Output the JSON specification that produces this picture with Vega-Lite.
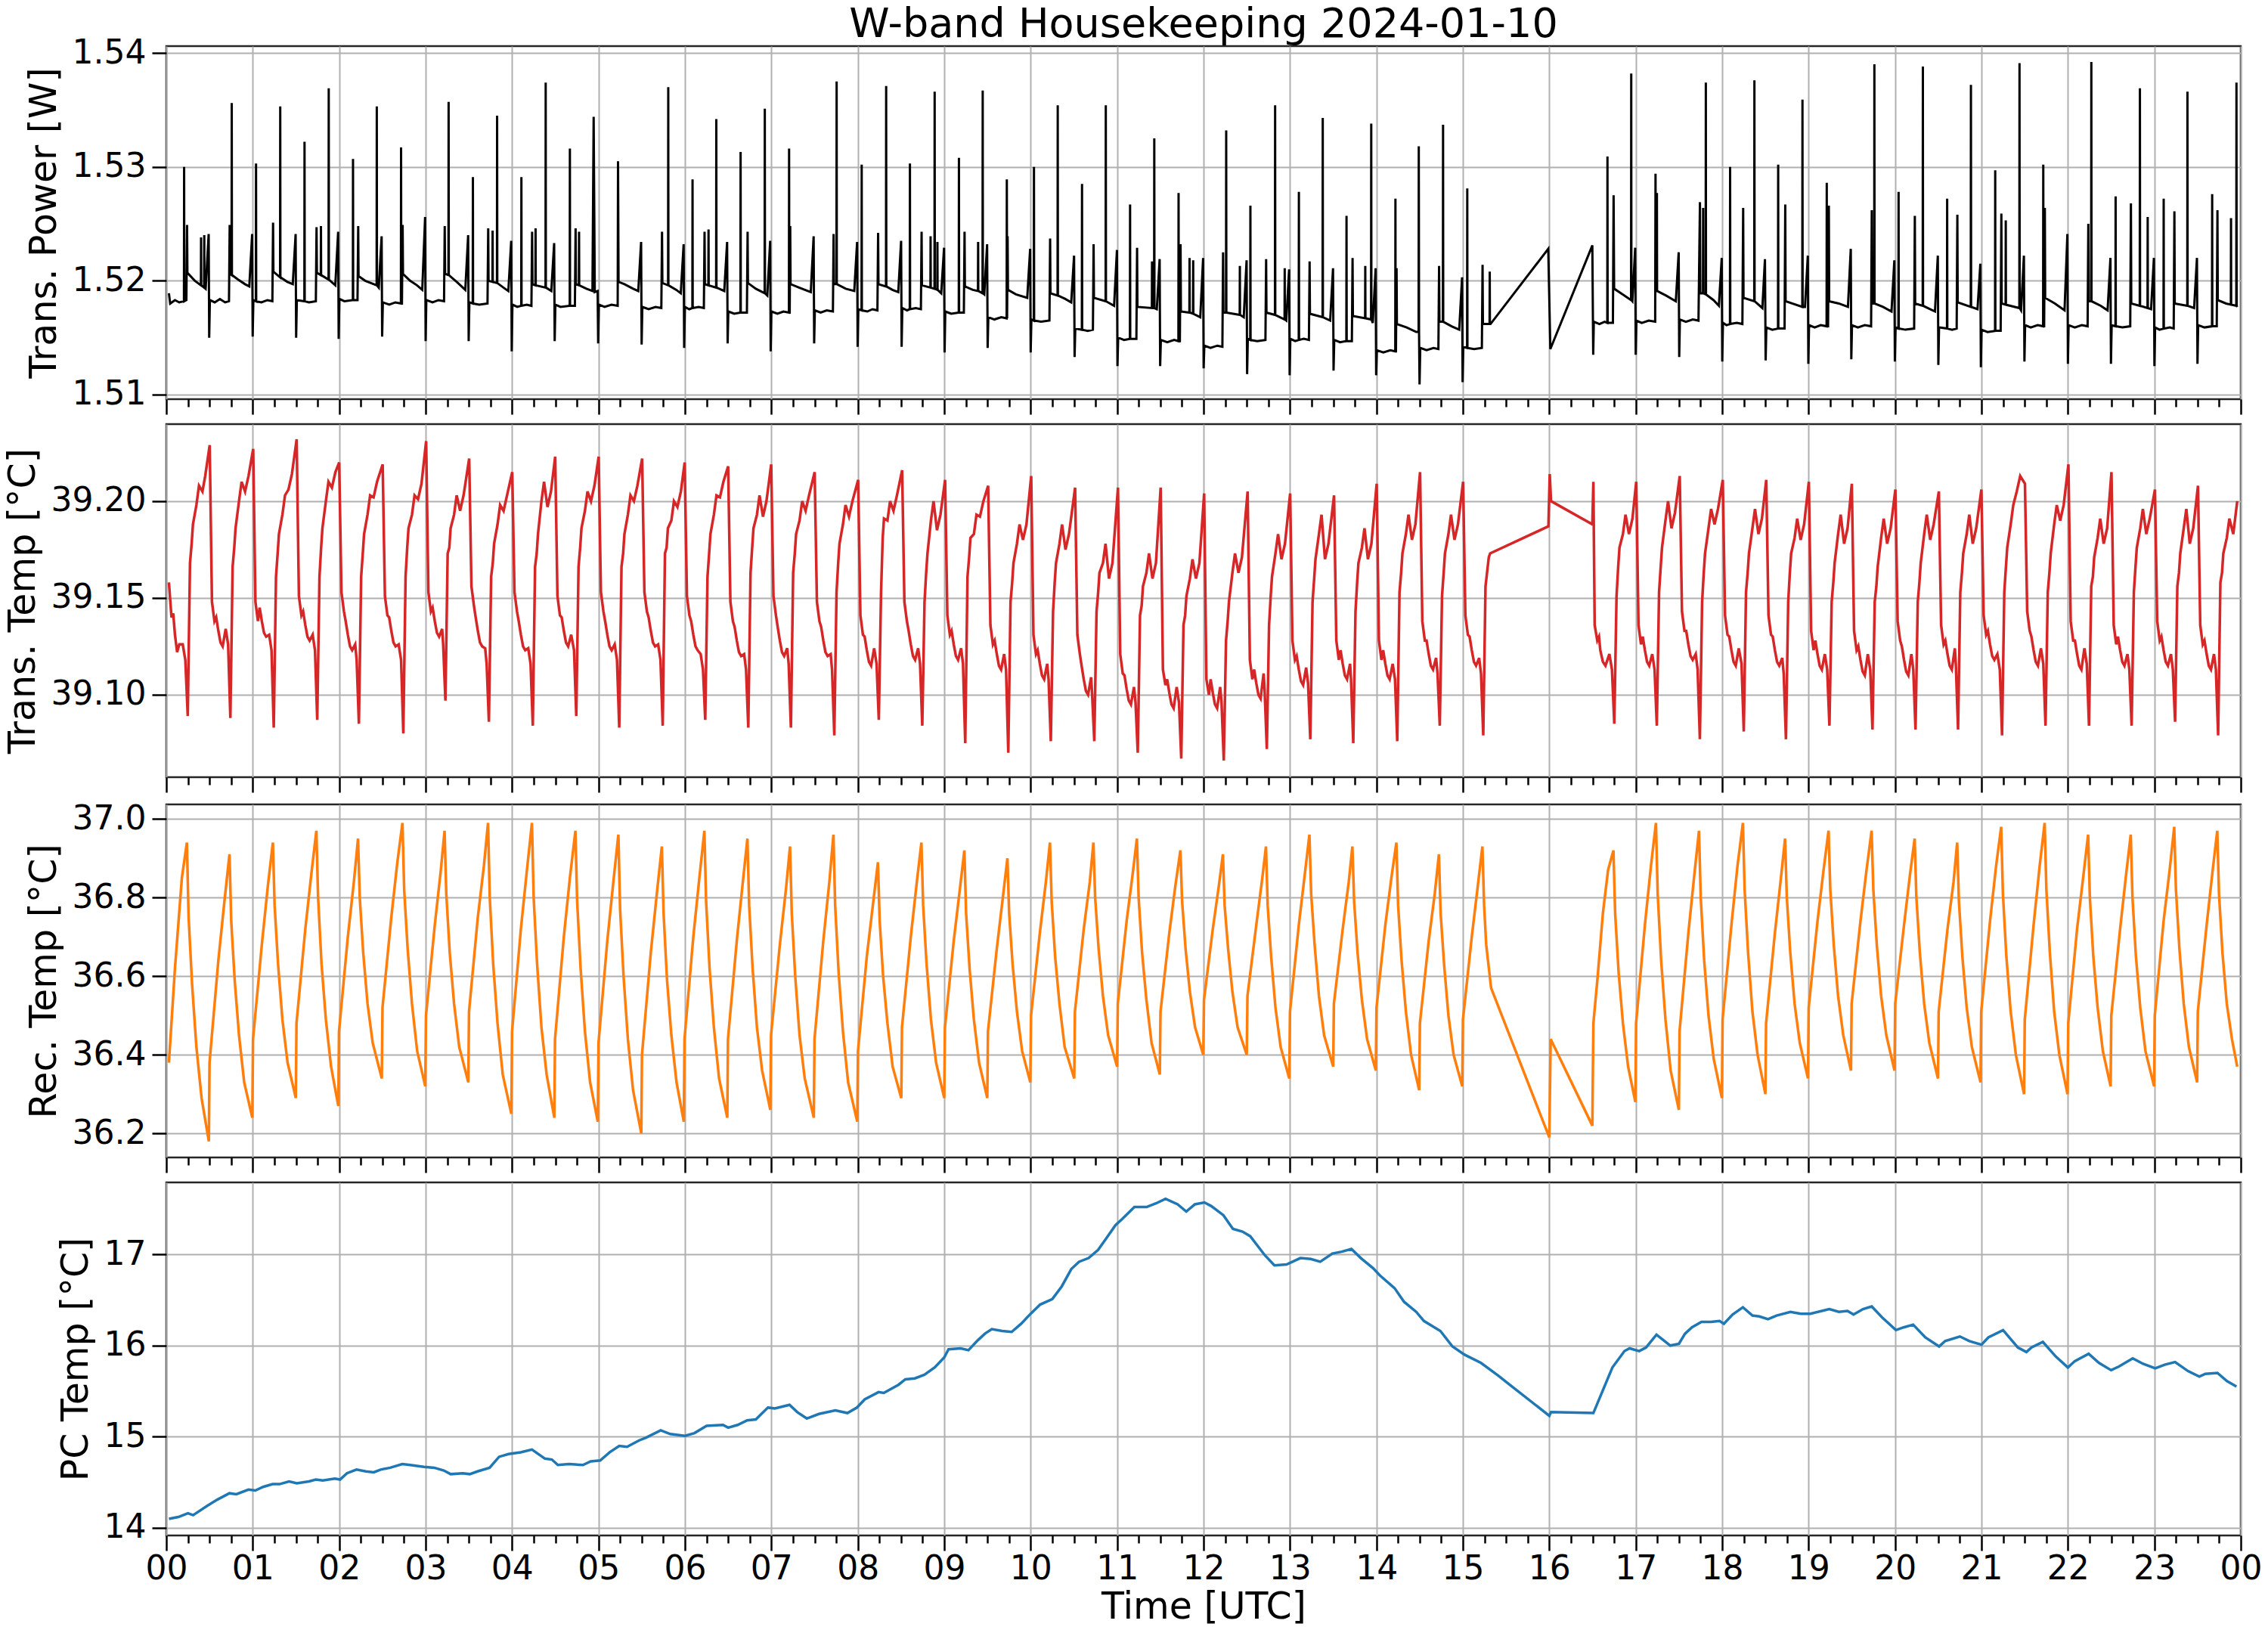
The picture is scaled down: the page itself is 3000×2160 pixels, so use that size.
{
  "$schema": "https://vega.github.io/schema/vega-lite/v6.json",
  "padding": {"left": 4, "top": 4, "right": 5, "bottom": 0},
  "config": {
    "font": "DejaVu Sans",
    "view": {"stroke": "#262626", "strokeWidth": 2.5},
    "concat": {"spacing": 8},
    "axis": {
      "domain": false,
      "gridColor": "#b0b0b0",
      "gridWidth": 2,
      "tickColor": "#000000",
      "tickWidth": 2.5,
      "labelColor": "#000000",
      "labelFont": "DejaVu Sans",
      "labelFontSize": 44,
      "titleFont": "DejaVu Sans",
      "titleFontSize": 49,
      "titleFontWeight": "normal",
      "titleColor": "#000000",
      "labelOverlap": false,
      "labelFlush": false
    },
    "axisX": {"tickSize": 20},
    "axisY": {"tickSize": 19, "labelPadding": 8, "titlePadding": 12}
  },
  "datasets": {
    "power": [
      {"t":0.03,"v":1.5189},{"t":0.045,"v":1.518},{"t":0.10,"v":1.5183},{"t":0.15,"v":1.5181},{"t":0.204,"v":1.5182},{"t":0.206,"v":1.53},{"t":0.208,"v":1.5182},{"t":0.232,"v":1.5183},
      {"t":0.240,"v":1.5249},{"t":0.244,"v":1.5207},{"t":0.33,"v":1.52},{"t":0.400,"v":1.5196},{"t":0.402,"v":1.5238},{"t":0.404,"v":1.5196},{"t":0.437,"v":1.5194},{"t":0.439,"v":1.524},{"t":0.441,"v":1.5194},{"t":0.455,"v":1.5193},
      {"t":0.490,"v":1.5241},{"t":0.496,"v":1.515},{"t":0.504,"v":1.5183},{"t":0.56,"v":1.5181},{"t":0.62,"v":1.5184},{"t":0.68,"v":1.5181},{"t":0.725,"v":1.5182},
      {"t":0.733,"v":1.5249},{"t":0.737,"v":1.5206},{"t":0.755,"v":1.5205},{"t":0.757,"v":1.5356},{"t":0.759,"v":1.5205},{"t":0.83,"v":1.5201},{"t":0.91,"v":1.5197},{"t":0.96,"v":1.5195},
      {"t":0.993,"v":1.5241},{"t":0.999,"v":1.5151},{"t":1.007,"v":1.5183},{"t":1.036,"v":1.5182},{"t":1.038,"v":1.5303},{"t":1.040,"v":1.5182},{"t":1.10,"v":1.5181},{"t":1.17,"v":1.5183},{"t":1.227,"v":1.5182},
      {"t":1.235,"v":1.5251},{"t":1.239,"v":1.5208},{"t":1.316,"v":1.5203},{"t":1.318,"v":1.5353},{"t":1.320,"v":1.5203},{"t":1.40,"v":1.5199},{"t":1.463,"v":1.5197},
      {"t":1.496,"v":1.5241},{"t":1.502,"v":1.515},{"t":1.510,"v":1.5183},{"t":1.597,"v":1.5182},{"t":1.599,"v":1.5322},{"t":1.601,"v":1.5182},{"t":1.65,"v":1.5181},{"t":1.730,"v":1.5182},
      {"t":1.738,"v":1.5247},{"t":1.742,"v":1.5207},{"t":1.787,"v":1.5205},{"t":1.789,"v":1.5248},{"t":1.791,"v":1.5205},{"t":1.877,"v":1.5201},{"t":1.879,"v":1.5369},{"t":1.881,"v":1.5201},{"t":1.955,"v":1.5196},
      {"t":1.988,"v":1.5243},{"t":1.994,"v":1.5149},{"t":2.002,"v":1.5184},{"t":2.06,"v":1.5182},{"t":2.158,"v":1.5183},{"t":2.160,"v":1.5307},{"t":2.162,"v":1.5183},{"t":2.212,"v":1.5183},
      {"t":2.220,"v":1.5248},{"t":2.224,"v":1.5204},{"t":2.30,"v":1.52},{"t":2.433,"v":1.5196},{"t":2.435,"v":1.5353},{"t":2.437,"v":1.5196},{"t":2.458,"v":1.5194},
      {"t":2.491,"v":1.5239},{"t":2.497,"v":1.5151},{"t":2.505,"v":1.5181},{"t":2.58,"v":1.5179},{"t":2.65,"v":1.5181},{"t":2.714,"v":1.518},{"t":2.716,"v":1.5317},{"t":2.718,"v":1.518},{"t":2.726,"v":1.518},
      {"t":2.734,"v":1.5249},{"t":2.738,"v":1.5206},{"t":2.82,"v":1.52},{"t":2.90,"v":1.5196},{"t":2.961,"v":1.5192},
      {"t":2.994,"v":1.5256},{"t":3.000,"v":1.5147},{"t":3.008,"v":1.5183},{"t":3.08,"v":1.5181},{"t":3.15,"v":1.5183},{"t":3.213,"v":1.5182},
      {"t":3.221,"v":1.5248},{"t":3.225,"v":1.5206},{"t":3.264,"v":1.5205},{"t":3.266,"v":1.5357},{"t":3.268,"v":1.5205},{"t":3.36,"v":1.5199},{"t":3.459,"v":1.5192},
      {"t":3.492,"v":1.524},{"t":3.498,"v":1.5147},{"t":3.506,"v":1.5181},{"t":3.545,"v":1.518},{"t":3.547,"v":1.5291},{"t":3.549,"v":1.518},{"t":3.62,"v":1.5179},{"t":3.716,"v":1.518},
      {"t":3.724,"v":1.5246},{"t":3.728,"v":1.52},{"t":3.773,"v":1.5199},{"t":3.775,"v":1.5244},{"t":3.777,"v":1.5199},{"t":3.825,"v":1.5198},{"t":3.827,"v":1.5345},{"t":3.829,"v":1.5198},{"t":3.90,"v":1.5194},{"t":3.957,"v":1.5191},
      {"t":3.990,"v":1.5235},{"t":3.996,"v":1.5138},{"t":4.004,"v":1.5179},{"t":4.06,"v":1.5177},{"t":4.106,"v":1.5178},{"t":4.108,"v":1.5291},{"t":4.110,"v":1.5178},{"t":4.17,"v":1.5179},{"t":4.224,"v":1.5178},
      {"t":4.232,"v":1.5243},{"t":4.236,"v":1.5197},{"t":4.270,"v":1.5196},{"t":4.272,"v":1.5246},{"t":4.274,"v":1.5196},{"t":4.387,"v":1.5194},{"t":4.389,"v":1.5374},{"t":4.391,"v":1.5194},{"t":4.454,"v":1.5191},
      {"t":4.487,"v":1.5233},{"t":4.493,"v":1.5147},{"t":4.501,"v":1.5179},{"t":4.56,"v":1.5177},{"t":4.667,"v":1.5178},{"t":4.669,"v":1.5316},{"t":4.671,"v":1.5178},{"t":4.727,"v":1.5178},
      {"t":4.735,"v":1.5246},{"t":4.739,"v":1.5197},{"t":4.773,"v":1.5196},{"t":4.775,"v":1.5243},{"t":4.777,"v":1.5196},{"t":4.86,"v":1.5193},{"t":4.93,"v":1.5191},{"t":4.944,"v":1.5344},{"t":4.957,"v":1.519},{"t":4.990,"v":1.5191},
      {"t":4.996,"v":1.5145},{"t":5.004,"v":1.5179},{"t":5.07,"v":1.5177},{"t":5.15,"v":1.5179},{"t":5.222,"v":1.5178},
      {"t":5.226,"v":1.5305},{"t":5.232,"v":1.5199},{"t":5.30,"v":1.5197},{"t":5.40,"v":1.5193},{"t":5.460,"v":1.5191},
      {"t":5.493,"v":1.5234},{"t":5.499,"v":1.5144},{"t":5.507,"v":1.5177},{"t":5.58,"v":1.5175},{"t":5.66,"v":1.5177},{"t":5.727,"v":1.5176},
      {"t":5.735,"v":1.5243},{"t":5.739,"v":1.5198},{"t":5.805,"v":1.5196},{"t":5.807,"v":1.537},{"t":5.809,"v":1.5196},{"t":5.90,"v":1.5192},{"t":5.952,"v":1.5189},
      {"t":5.985,"v":1.5232},{"t":5.991,"v":1.5141},{"t":5.999,"v":1.5177},{"t":6.05,"v":1.5175},{"t":6.086,"v":1.5176},{"t":6.088,"v":1.5289},{"t":6.090,"v":1.5176},{"t":6.16,"v":1.5177},{"t":6.219,"v":1.5176},
      {"t":6.227,"v":1.5243},{"t":6.231,"v":1.5197},{"t":6.271,"v":1.5196},{"t":6.273,"v":1.5245},{"t":6.275,"v":1.5196},{"t":6.361,"v":1.5194},{"t":6.363,"v":1.5342},{"t":6.365,"v":1.5194},{"t":6.455,"v":1.5191},
      {"t":6.488,"v":1.5234},{"t":6.494,"v":1.5145},{"t":6.502,"v":1.5173},{"t":6.57,"v":1.5171},{"t":6.642,"v":1.5172},{"t":6.644,"v":1.5313},{"t":6.646,"v":1.5172},{"t":6.717,"v":1.5172},
      {"t":6.725,"v":1.5243},{"t":6.729,"v":1.5198},{"t":6.82,"v":1.5193},{"t":6.922,"v":1.5189},{"t":6.924,"v":1.5351},{"t":6.926,"v":1.5189},{"t":6.953,"v":1.5187},
      {"t":6.986,"v":1.5235},{"t":6.992,"v":1.5138},{"t":7.000,"v":1.5173},{"t":7.07,"v":1.5171},{"t":7.14,"v":1.5173},{"t":7.203,"v":1.5172},{"t":7.205,"v":1.5316},{"t":7.207,"v":1.5172},{"t":7.212,"v":1.5172},
      {"t":7.218,"v":1.5248},{"t":7.222,"v":1.5197},{"t":7.32,"v":1.5194},{"t":7.456,"v":1.519},
      {"t":7.489,"v":1.5239},{"t":7.495,"v":1.5145},{"t":7.503,"v":1.5174},{"t":7.57,"v":1.5172},{"t":7.64,"v":1.5174},{"t":7.712,"v":1.5173},
      {"t":7.720,"v":1.5241},{"t":7.724,"v":1.5197},{"t":7.753,"v":1.5197},{"t":7.755,"v":1.5375},{"t":7.757,"v":1.5197},{"t":7.86,"v":1.5193},{"t":7.959,"v":1.5191},
      {"t":7.992,"v":1.5234},{"t":7.998,"v":1.5142},{"t":8.006,"v":1.5175},{"t":8.043,"v":1.5174},{"t":8.045,"v":1.5302},{"t":8.047,"v":1.5174},{"t":8.11,"v":1.5173},{"t":8.17,"v":1.5175},{"t":8.227,"v":1.5174},
      {"t":8.235,"v":1.5242},{"t":8.239,"v":1.5197},{"t":8.326,"v":1.5195},{"t":8.328,"v":1.5371},{"t":8.330,"v":1.5195},{"t":8.40,"v":1.5192},{"t":8.468,"v":1.519},
      {"t":8.501,"v":1.5235},{"t":8.507,"v":1.5142},{"t":8.515,"v":1.5176},{"t":8.57,"v":1.5174},{"t":8.601,"v":1.5175},{"t":8.603,"v":1.5303},{"t":8.605,"v":1.5175},{"t":8.67,"v":1.5176},{"t":8.730,"v":1.5175},
      {"t":8.738,"v":1.5243},{"t":8.742,"v":1.5196},{"t":8.840,"v":1.5194},{"t":8.842,"v":1.5239},{"t":8.844,"v":1.5194},{"t":8.887,"v":1.5193},{"t":8.889,"v":1.5366},{"t":8.891,"v":1.5193},{"t":8.919,"v":1.5192},{"t":8.921,"v":1.5234},{"t":8.923,"v":1.5192},{"t":8.965,"v":1.5189},
      {"t":8.998,"v":1.5229},{"t":9.004,"v":1.5137},{"t":9.012,"v":1.5173},{"t":9.08,"v":1.5171},{"t":9.168,"v":1.5172},{"t":9.170,"v":1.5308},{"t":9.172,"v":1.5172},{"t":9.227,"v":1.5172},
      {"t":9.235,"v":1.5243},{"t":9.239,"v":1.5195},{"t":9.33,"v":1.5192},{"t":9.390,"v":1.5191},{"t":9.392,"v":1.5234},{"t":9.394,"v":1.5191},{"t":9.443,"v":1.5189},{"t":9.445,"v":1.5367},{"t":9.447,"v":1.5189},{"t":9.463,"v":1.5188},
      {"t":9.496,"v":1.5232},{"t":9.502,"v":1.5141},{"t":9.510,"v":1.5168},{"t":9.58,"v":1.5166},{"t":9.66,"v":1.5168},{"t":9.722,"v":1.5167},{"t":9.724,"v":1.5289},{"t":9.727,"v":1.5167},
      {"t":9.733,"v":1.5239},{"t":9.737,"v":1.5192},{"t":9.83,"v":1.5188},{"t":9.96,"v":1.5185},
      {"t":9.994,"v":1.5228},{"t":10.000,"v":1.5137},{"t":10.008,"v":1.5166},{"t":10.036,"v":1.5165},{"t":10.038,"v":1.53},{"t":10.040,"v":1.5165},{"t":10.12,"v":1.5164},{"t":10.217,"v":1.5165},
      {"t":10.225,"v":1.5237},{"t":10.229,"v":1.5189},{"t":10.311,"v":1.5187},{"t":10.313,"v":1.5354},{"t":10.315,"v":1.5187},{"t":10.40,"v":1.5184},{"t":10.469,"v":1.5181},
      {"t":10.502,"v":1.5222},{"t":10.508,"v":1.5133},{"t":10.516,"v":1.5158},{"t":10.592,"v":1.5157},{"t":10.594,"v":1.5285},{"t":10.596,"v":1.5157},{"t":10.66,"v":1.5156},{"t":10.720,"v":1.5157},
      {"t":10.728,"v":1.5232},{"t":10.732,"v":1.5185},{"t":10.867,"v":1.5182},{"t":10.869,"v":1.5354},{"t":10.871,"v":1.5182},{"t":10.965,"v":1.5178},
      {"t":10.998,"v":1.5227},{"t":11.004,"v":1.5125},{"t":11.012,"v":1.515},{"t":11.08,"v":1.5148},{"t":11.148,"v":1.5149},{"t":11.150,"v":1.5267},{"t":11.152,"v":1.5149},{"t":11.223,"v":1.5149},
      {"t":11.231,"v":1.5229},{"t":11.235,"v":1.5177},{"t":11.402,"v":1.5176},{"t":11.404,"v":1.5217},{"t":11.406,"v":1.5176},{"t":11.428,"v":1.5176},{"t":11.430,"v":1.5325},{"t":11.432,"v":1.5176},{"t":11.459,"v":1.5175},
      {"t":11.492,"v":1.5219},{"t":11.498,"v":1.5125},{"t":11.506,"v":1.5148},{"t":11.58,"v":1.5146},{"t":11.66,"v":1.5148},{"t":11.709,"v":1.5147},{"t":11.711,"v":1.5277},{"t":11.713,"v":1.5147},{"t":11.726,"v":1.5147},
      {"t":11.734,"v":1.5232},{"t":11.738,"v":1.5173},{"t":11.836,"v":1.5172},{"t":11.838,"v":1.522},{"t":11.840,"v":1.5172},{"t":11.878,"v":1.5171},{"t":11.880,"v":1.5218},{"t":11.882,"v":1.5171},{"t":11.962,"v":1.5168},
      {"t":11.995,"v":1.522},{"t":12.001,"v":1.5123},{"t":12.009,"v":1.5143},{"t":12.08,"v":1.5141},{"t":12.16,"v":1.5143},{"t":12.218,"v":1.5142},
      {"t":12.226,"v":1.5225},{"t":12.230,"v":1.5172},{"t":12.260,"v":1.5172},{"t":12.262,"v":1.5332},{"t":12.264,"v":1.5172},{"t":12.418,"v":1.517},{"t":12.420,"v":1.5213},{"t":12.422,"v":1.517},{"t":12.465,"v":1.5168},
      {"t":12.498,"v":1.5218},{"t":12.504,"v":1.5118},{"t":12.512,"v":1.5149},{"t":12.540,"v":1.5148},{"t":12.542,"v":1.5266},{"t":12.544,"v":1.5148},{"t":12.62,"v":1.5147},{"t":12.716,"v":1.5148},
      {"t":12.724,"v":1.5219},{"t":12.728,"v":1.5172},{"t":12.826,"v":1.517},{"t":12.828,"v":1.5354},{"t":12.830,"v":1.517},{"t":12.937,"v":1.5166},{"t":12.939,"v":1.5211},{"t":12.941,"v":1.5166},{"t":12.957,"v":1.5165},
      {"t":12.990,"v":1.521},{"t":12.996,"v":1.5117},{"t":13.004,"v":1.5149},{"t":13.06,"v":1.5147},{"t":13.101,"v":1.5148},{"t":13.103,"v":1.5278},{"t":13.105,"v":1.5148},{"t":13.16,"v":1.5149},{"t":13.219,"v":1.5148},
      {"t":13.227,"v":1.5217},{"t":13.231,"v":1.5171},{"t":13.377,"v":1.5168},{"t":13.379,"v":1.5343},{"t":13.381,"v":1.5168},{"t":13.465,"v":1.5165},
      {"t":13.498,"v":1.5211},{"t":13.504,"v":1.5121},{"t":13.512,"v":1.5148},{"t":13.58,"v":1.5146},{"t":13.652,"v":1.5147},{"t":13.654,"v":1.5257},{"t":13.656,"v":1.5147},{"t":13.716,"v":1.5147},
      {"t":13.724,"v":1.522},{"t":13.728,"v":1.5169},{"t":13.869,"v":1.5167},{"t":13.871,"v":1.5213},{"t":13.873,"v":1.5167},{"t":13.938,"v":1.5166},{"t":13.940,"v":1.5338},{"t":13.942,"v":1.5166},{"t":13.958,"v":1.5163},
      {"t":13.991,"v":1.5211},{"t":13.997,"v":1.5117},{"t":14.005,"v":1.5139},{"t":14.08,"v":1.5137},{"t":14.16,"v":1.5139},{"t":14.218,"v":1.5138},{"t":14.220,"v":1.5272},{"t":14.222,"v":1.5138},{"t":14.226,"v":1.5138},
      {"t":14.233,"v":1.5211},{"t":14.237,"v":1.5162},{"t":14.35,"v":1.5159},{"t":14.46,"v":1.5155},{"t":14.488,"v":1.5155},{"t":14.490,"v":1.5318},{"t":14.493,"v":1.5155},
      {"t":14.499,"v":1.5109},{"t":14.507,"v":1.5141},{"t":14.58,"v":1.5139},{"t":14.66,"v":1.5141},{"t":14.717,"v":1.514},
      {"t":14.725,"v":1.5213},{"t":14.729,"v":1.5164},{"t":14.769,"v":1.5164},{"t":14.771,"v":1.5337},{"t":14.773,"v":1.5164},{"t":14.87,"v":1.516},{"t":14.958,"v":1.5157},
      {"t":14.991,"v":1.5203},{"t":14.997,"v":1.5111},{"t":15.005,"v":1.5142},{"t":15.049,"v":1.5141},{"t":15.051,"v":1.5281},{"t":15.053,"v":1.5141},{"t":15.13,"v":1.514},{"t":15.220,"v":1.5141},
      {"t":15.228,"v":1.5214},{"t":15.232,"v":1.5162},{"t":15.309,"v":1.5162},{"t":15.311,"v":1.5208},{"t":15.313,"v":1.5162},{"t":15.32,"v":1.5162},
      {"t":15.988,"v":1.5228},{"t":16.012,"v":1.514},{"t":16.498,"v":1.5231},
      {"t":16.508,"v":1.5135},{"t":16.515,"v":1.5164},{"t":16.58,"v":1.5162},{"t":16.64,"v":1.5164},{"t":16.671,"v":1.5163},{"t":16.673,"v":1.5309},{"t":16.675,"v":1.5163},{"t":16.736,"v":1.5163},
      {"t":16.744,"v":1.5275},{"t":16.750,"v":1.5193},{"t":16.85,"v":1.5188},{"t":16.946,"v":1.5183},{"t":16.948,"v":1.5382},{"t":16.950,"v":1.5183},{"t":16.961,"v":1.5182},
      {"t":16.994,"v":1.5229},{"t":17.000,"v":1.5135},{"t":17.008,"v":1.5165},{"t":17.07,"v":1.5163},{"t":17.15,"v":1.5165},{"t":17.225,"v":1.5164},
      {"t":17.229,"v":1.5294},{"t":17.233,"v":1.5191},{"t":17.243,"v":1.5191},{"t":17.245,"v":1.5277},{"t":17.247,"v":1.5191},{"t":17.35,"v":1.5187},{"t":17.464,"v":1.5182},
      {"t":17.497,"v":1.5225},{"t":17.503,"v":1.5133},{"t":17.511,"v":1.5166},{"t":17.58,"v":1.5164},{"t":17.66,"v":1.5166},{"t":17.726,"v":1.5165},
      {"t":17.743,"v":1.5269},{"t":17.747,"v":1.5189},{"t":17.778,"v":1.5189},{"t":17.780,"v":1.5264},{"t":17.782,"v":1.5189},{"t":17.809,"v":1.5188},{"t":17.811,"v":1.5374},{"t":17.813,"v":1.5188},{"t":17.90,"v":1.5183},{"t":17.962,"v":1.5178},
      {"t":17.995,"v":1.522},{"t":18.001,"v":1.5129},{"t":18.009,"v":1.5163},{"t":18.05,"v":1.5161},{"t":18.090,"v":1.5162},{"t":18.092,"v":1.53},{"t":18.094,"v":1.5162},{"t":18.17,"v":1.5163},{"t":18.234,"v":1.5162},
      {"t":18.243,"v":1.5264},{"t":18.247,"v":1.5185},{"t":18.371,"v":1.5182},{"t":18.373,"v":1.5376},{"t":18.375,"v":1.5182},{"t":18.465,"v":1.5176},
      {"t":18.495,"v":1.5219},{"t":18.503,"v":1.513},{"t":18.511,"v":1.5159},{"t":18.58,"v":1.5157},{"t":18.646,"v":1.5158},{"t":18.648,"v":1.5302},{"t":18.650,"v":1.5158},{"t":18.722,"v":1.5158},
      {"t":18.730,"v":1.5267},{"t":18.734,"v":1.5182},{"t":18.927,"v":1.5177},{"t":18.929,"v":1.5359},{"t":18.931,"v":1.5177},{"t":18.958,"v":1.5177},
      {"t":18.991,"v":1.5222},{"t":18.997,"v":1.5127},{"t":19.005,"v":1.5161},{"t":19.07,"v":1.5159},{"t":19.14,"v":1.5161},{"t":19.208,"v":1.516},{"t":19.210,"v":1.5286},{"t":19.212,"v":1.516},{"t":19.225,"v":1.516},
      {"t":19.234,"v":1.5266},{"t":19.238,"v":1.5182},{"t":19.35,"v":1.518},{"t":19.455,"v":1.5177},
      {"t":19.488,"v":1.5228},{"t":19.494,"v":1.5131},{"t":19.502,"v":1.5161},{"t":19.57,"v":1.5159},{"t":19.65,"v":1.5161},{"t":19.723,"v":1.516},
      {"t":19.731,"v":1.5262},{"t":19.735,"v":1.518},{"t":19.759,"v":1.518},{"t":19.761,"v":1.539},{"t":19.763,"v":1.518},{"t":19.86,"v":1.5177},{"t":19.959,"v":1.5173},
      {"t":19.992,"v":1.5218},{"t":19.998,"v":1.5129},{"t":20.006,"v":1.5159},{"t":20.039,"v":1.5158},{"t":20.041,"v":1.5278},{"t":20.043,"v":1.5158},{"t":20.12,"v":1.5157},{"t":20.221,"v":1.5158},
      {"t":20.229,"v":1.5257},{"t":20.233,"v":1.518},{"t":20.320,"v":1.5178},{"t":20.322,"v":1.5388},{"t":20.324,"v":1.5178},{"t":20.462,"v":1.5173},
      {"t":20.495,"v":1.5222},{"t":20.501,"v":1.5126},{"t":20.509,"v":1.5159},{"t":20.601,"v":1.5158},{"t":20.603,"v":1.5272},{"t":20.605,"v":1.5158},{"t":20.66,"v":1.5157},{"t":20.713,"v":1.5158},
      {"t":20.721,"v":1.5258},{"t":20.725,"v":1.5181},{"t":20.876,"v":1.5177},{"t":20.878,"v":1.5372},{"t":20.880,"v":1.5177},{"t":20.954,"v":1.5175},
      {"t":20.987,"v":1.5215},{"t":20.993,"v":1.5124},{"t":21.001,"v":1.5157},{"t":21.07,"v":1.5155},{"t":21.157,"v":1.5156},{"t":21.159,"v":1.5297},{"t":21.161,"v":1.5156},{"t":21.222,"v":1.5156},
      {"t":21.230,"v":1.5259},{"t":21.234,"v":1.518},{"t":21.279,"v":1.5179},{"t":21.281,"v":1.5253},{"t":21.283,"v":1.5179},{"t":21.438,"v":1.5176},{"t":21.440,"v":1.5391},{"t":21.442,"v":1.5176},{"t":21.458,"v":1.5174},
      {"t":21.491,"v":1.5222},{"t":21.497,"v":1.5129},{"t":21.505,"v":1.5161},{"t":21.57,"v":1.5159},{"t":21.65,"v":1.5161},{"t":21.713,"v":1.516},{"t":21.715,"v":1.5302},{"t":21.717,"v":1.516},{"t":21.725,"v":1.516},
      {"t":21.733,"v":1.5264},{"t":21.737,"v":1.5185},{"t":21.85,"v":1.518},{"t":21.961,"v":1.5174},
      {"t":21.994,"v":1.5241},{"t":22.000,"v":1.5127},{"t":22.008,"v":1.5161},{"t":22.08,"v":1.5159},{"t":22.16,"v":1.5161},{"t":22.228,"v":1.516},
      {"t":22.236,"v":1.525},{"t":22.240,"v":1.5182},{"t":22.269,"v":1.5182},{"t":22.271,"v":1.5392},{"t":22.273,"v":1.5182},{"t":22.38,"v":1.5178},{"t":22.459,"v":1.5174},
      {"t":22.492,"v":1.522},{"t":22.498,"v":1.5127},{"t":22.506,"v":1.5161},{"t":22.550,"v":1.516},{"t":22.552,"v":1.5274},{"t":22.554,"v":1.516},{"t":22.63,"v":1.5159},{"t":22.721,"v":1.516},
      {"t":22.729,"v":1.5268},{"t":22.733,"v":1.518},{"t":22.831,"v":1.5178},{"t":22.833,"v":1.5369},{"t":22.835,"v":1.5178},{"t":22.921,"v":1.5176},{"t":22.923,"v":1.5256},{"t":22.925,"v":1.5176},{"t":22.962,"v":1.5175},
      {"t":22.995,"v":1.522},{"t":23.001,"v":1.5125},{"t":23.009,"v":1.5159},{"t":23.06,"v":1.5157},{"t":23.106,"v":1.5158},{"t":23.108,"v":1.5272},{"t":23.110,"v":1.5158},{"t":23.18,"v":1.5159},{"t":23.224,"v":1.5158},
      {"t":23.232,"v":1.5261},{"t":23.236,"v":1.518},{"t":23.381,"v":1.5178},{"t":23.383,"v":1.5366},{"t":23.385,"v":1.5178},{"t":23.460,"v":1.5176},
      {"t":23.493,"v":1.522},{"t":23.499,"v":1.5127},{"t":23.507,"v":1.5161},{"t":23.58,"v":1.5159},{"t":23.667,"v":1.516},{"t":23.669,"v":1.5276},{"t":23.671,"v":1.516},{"t":23.722,"v":1.516},
      {"t":23.730,"v":1.5262},{"t":23.734,"v":1.5183},{"t":23.83,"v":1.518},{"t":23.885,"v":1.5179},{"t":23.887,"v":1.5255},{"t":23.889,"v":1.5179},{"t":23.948,"v":1.5178},{"t":23.950,"v":1.5374},{"t":23.952,"v":1.5178},{"t":23.959,"v":1.5177}
    ],
    "ttemp": [
      {"t":0.03,"v":39.158},{"t":0.06,"v":39.140},{"t":0.10,"v":39.131},{"t":0.15,"v":39.126},{"t":0.22,"v":39.118},{"t":0.248,"v":39.089},{"t":0.274,"v":39.168},{"t":0.308,"v":39.188},{"t":0.348,"v":39.198},{"t":0.378,"v":39.208},{"t":0.45,"v":39.213},
      {"t":0.502,"v":39.229},{"t":0.528,"v":39.148},{"t":0.557,"v":39.138},{"t":0.602,"v":39.133},{"t":0.652,"v":39.125},{"t":0.715,"v":39.126},{"t":0.741,"v":39.088},{"t":0.767,"v":39.166},{"t":0.801,"v":39.186},{"t":0.841,"v":39.200},{"t":0.871,"v":39.210},{"t":0.951,"v":39.213},
      {"t":1.005,"v":39.227},{"t":1.031,"v":39.148},{"t":1.060,"v":39.138},{"t":1.105,"v":39.138},{"t":1.155,"v":39.130},{"t":1.217,"v":39.123},{"t":1.243,"v":39.083},{"t":1.269,"v":39.161},{"t":1.303,"v":39.183},{"t":1.343,"v":39.193},{"t":1.373,"v":39.203},{"t":1.453,"v":39.214},
      {"t":1.508,"v":39.232},{"t":1.534,"v":39.151},{"t":1.563,"v":39.141},{"t":1.608,"v":39.136},{"t":1.658,"v":39.128},{"t":1.720,"v":39.123},{"t":1.746,"v":39.087},{"t":1.772,"v":39.161},{"t":1.806,"v":39.186},{"t":1.846,"v":39.200},{"t":1.876,"v":39.210},{"t":1.956,"v":39.215},
      {"t":2.000,"v":39.220},{"t":2.026,"v":39.153},{"t":2.055,"v":39.143},{"t":2.100,"v":39.131},{"t":2.150,"v":39.123},{"t":2.202,"v":39.118},{"t":2.228,"v":39.085},{"t":2.254,"v":39.161},{"t":2.288,"v":39.183},{"t":2.328,"v":39.193},{"t":2.358,"v":39.203},{"t":2.438,"v":39.210},
      {"t":2.503,"v":39.219},{"t":2.529,"v":39.151},{"t":2.558,"v":39.141},{"t":2.603,"v":39.133},{"t":2.653,"v":39.125},{"t":2.716,"v":39.118},{"t":2.742,"v":39.080},{"t":2.768,"v":39.161},{"t":2.802,"v":39.186},{"t":2.842,"v":39.193},{"t":2.872,"v":39.203},{"t":2.952,"v":39.209},
      {"t":3.006,"v":39.231},{"t":3.032,"v":39.153},{"t":3.061,"v":39.143},{"t":3.106,"v":39.138},{"t":3.156,"v":39.130},{"t":3.203,"v":39.126},{"t":3.229,"v":39.097},{"t":3.255,"v":39.173},{"t":3.289,"v":39.186},{"t":3.329,"v":39.193},{"t":3.359,"v":39.203},{"t":3.439,"v":39.203},
      {"t":3.504,"v":39.222},{"t":3.530,"v":39.156},{"t":3.559,"v":39.146},{"t":3.604,"v":39.133},{"t":3.654,"v":39.125},{"t":3.706,"v":39.116},{"t":3.732,"v":39.086},{"t":3.758,"v":39.161},{"t":3.792,"v":39.178},{"t":3.832,"v":39.188},{"t":3.862,"v":39.198},{"t":3.942,"v":39.203},
      {"t":4.002,"v":39.215},{"t":4.028,"v":39.153},{"t":4.057,"v":39.143},{"t":4.102,"v":39.131},{"t":4.152,"v":39.123},{"t":4.214,"v":39.116},{"t":4.240,"v":39.084},{"t":4.266,"v":39.166},{"t":4.300,"v":39.183},{"t":4.340,"v":39.200},{"t":4.370,"v":39.210},{"t":4.450,"v":39.205},
      {"t":4.499,"v":39.223},{"t":4.525,"v":39.151},{"t":4.554,"v":39.141},{"t":4.599,"v":39.133},{"t":4.649,"v":39.125},{"t":4.717,"v":39.123},{"t":4.743,"v":39.089},{"t":4.769,"v":39.166},{"t":4.803,"v":39.186},{"t":4.843,"v":39.195},{"t":4.873,"v":39.205},{"t":4.953,"v":39.208},
      {"t":5.002,"v":39.223},{"t":5.028,"v":39.153},{"t":5.057,"v":39.143},{"t":5.102,"v":39.131},{"t":5.152,"v":39.123},{"t":5.214,"v":39.118},{"t":5.240,"v":39.083},{"t":5.266,"v":39.166},{"t":5.300,"v":39.183},{"t":5.340,"v":39.193},{"t":5.370,"v":39.203},{"t":5.450,"v":39.208},
      {"t":5.505,"v":39.222},{"t":5.531,"v":39.153},{"t":5.560,"v":39.143},{"t":5.605,"v":39.133},{"t":5.655,"v":39.125},{"t":5.717,"v":39.118},{"t":5.743,"v":39.084},{"t":5.769,"v":39.173},{"t":5.803,"v":39.186},{"t":5.843,"v":39.190},{"t":5.873,"v":39.200},{"t":5.953,"v":39.205},
      {"t":5.997,"v":39.220},{"t":6.023,"v":39.151},{"t":6.052,"v":39.141},{"t":6.097,"v":39.131},{"t":6.147,"v":39.123},{"t":6.209,"v":39.113},{"t":6.235,"v":39.087},{"t":6.261,"v":39.161},{"t":6.295,"v":39.183},{"t":6.335,"v":39.193},{"t":6.365,"v":39.203},{"t":6.445,"v":39.210},
      {"t":6.500,"v":39.218},{"t":6.526,"v":39.148},{"t":6.555,"v":39.138},{"t":6.600,"v":39.128},{"t":6.650,"v":39.120},{"t":6.707,"v":39.113},{"t":6.733,"v":39.083},{"t":6.759,"v":39.163},{"t":6.793,"v":39.186},{"t":6.833,"v":39.193},{"t":6.863,"v":39.203},{"t":6.943,"v":39.200},
      {"t":6.998,"v":39.219},{"t":7.024,"v":39.151},{"t":7.053,"v":39.141},{"t":7.098,"v":39.128},{"t":7.148,"v":39.120},{"t":7.200,"v":39.116},{"t":7.226,"v":39.083},{"t":7.252,"v":39.163},{"t":7.286,"v":39.183},{"t":7.326,"v":39.190},{"t":7.356,"v":39.200},{"t":7.436,"v":39.203},
      {"t":7.501,"v":39.215},{"t":7.527,"v":39.148},{"t":7.556,"v":39.138},{"t":7.601,"v":39.128},{"t":7.651,"v":39.120},{"t":7.702,"v":39.113},{"t":7.728,"v":39.079},{"t":7.754,"v":39.153},{"t":7.788,"v":39.178},{"t":7.828,"v":39.188},{"t":7.858,"v":39.198},{"t":7.938,"v":39.200},
      {"t":8.004,"v":39.211},{"t":8.030,"v":39.141},{"t":8.059,"v":39.131},{"t":8.104,"v":39.123},{"t":8.154,"v":39.115},{"t":8.217,"v":39.116},{"t":8.243,"v":39.087},{"t":8.269,"v":39.153},{"t":8.303,"v":39.191},{"t":8.343,"v":39.190},{"t":8.373,"v":39.200},{"t":8.453,"v":39.203},
      {"t":8.513,"v":39.216},{"t":8.539,"v":39.148},{"t":8.568,"v":39.138},{"t":8.613,"v":39.126},{"t":8.663,"v":39.118},{"t":8.720,"v":39.116},{"t":8.746,"v":39.084},{"t":8.772,"v":39.148},{"t":8.806,"v":39.173},{"t":8.846,"v":39.190},{"t":8.876,"v":39.200},{"t":8.956,"v":39.193},
      {"t":9.010,"v":39.211},{"t":9.036,"v":39.141},{"t":9.065,"v":39.131},{"t":9.110,"v":39.126},{"t":9.160,"v":39.118},{"t":9.217,"v":39.116},{"t":9.243,"v":39.075},{"t":9.269,"v":39.161},{"t":9.303,"v":39.181},{"t":9.343,"v":39.183},{"t":9.373,"v":39.193},{"t":9.453,"v":39.200},
      {"t":9.508,"v":39.208},{"t":9.534,"v":39.136},{"t":9.563,"v":39.126},{"t":9.608,"v":39.121},{"t":9.658,"v":39.113},{"t":9.715,"v":39.113},{"t":9.741,"v":39.070},{"t":9.767,"v":39.148},{"t":9.801,"v":39.168},{"t":9.841,"v":39.178},{"t":9.871,"v":39.188},{"t":9.951,"v":39.188},
      {"t":10.006,"v":39.213},{"t":10.032,"v":39.131},{"t":10.061,"v":39.121},{"t":10.106,"v":39.116},{"t":10.156,"v":39.108},{"t":10.207,"v":39.108},{"t":10.233,"v":39.076},{"t":10.259,"v":39.143},{"t":10.293,"v":39.168},{"t":10.333,"v":39.178},{"t":10.363,"v":39.188},{"t":10.443,"v":39.183},
      {"t":10.514,"v":39.207},{"t":10.540,"v":39.131},{"t":10.569,"v":39.121},{"t":10.614,"v":39.108},{"t":10.664,"v":39.100},{"t":10.710,"v":39.101},{"t":10.736,"v":39.076},{"t":10.762,"v":39.143},{"t":10.796,"v":39.163},{"t":10.836,"v":39.168},{"t":10.866,"v":39.178},{"t":10.946,"v":39.168},
      {"t":11.010,"v":39.207},{"t":11.036,"v":39.121},{"t":11.065,"v":39.111},{"t":11.110,"v":39.103},{"t":11.160,"v":39.095},{"t":11.213,"v":39.096},{"t":11.239,"v":39.070},{"t":11.265,"v":39.141},{"t":11.299,"v":39.156},{"t":11.339,"v":39.163},{"t":11.369,"v":39.173},{"t":11.449,"v":39.168},
      {"t":11.504,"v":39.207},{"t":11.530,"v":39.113},{"t":11.559,"v":39.105},{"t":11.604,"v":39.101},{"t":11.654,"v":39.093},{"t":11.716,"v":39.096},{"t":11.742,"v":39.067},{"t":11.768,"v":39.136},{"t":11.802,"v":39.151},{"t":11.842,"v":39.160},{"t":11.872,"v":39.170},{"t":11.952,"v":39.168},
      {"t":12.007,"v":39.204},{"t":12.033,"v":39.108},{"t":12.062,"v":39.100},{"t":12.107,"v":39.101},{"t":12.157,"v":39.093},{"t":12.208,"v":39.096},{"t":12.234,"v":39.066},{"t":12.260,"v":39.128},{"t":12.294,"v":39.148},{"t":12.334,"v":39.163},{"t":12.364,"v":39.173},{"t":12.444,"v":39.171},
      {"t":12.510,"v":39.205},{"t":12.536,"v":39.118},{"t":12.565,"v":39.108},{"t":12.610,"v":39.106},{"t":12.660,"v":39.098},{"t":12.706,"v":39.103},{"t":12.732,"v":39.072},{"t":12.758,"v":39.136},{"t":12.792,"v":39.161},{"t":12.832,"v":39.173},{"t":12.862,"v":39.183},{"t":12.942,"v":39.178},
      {"t":13.002,"v":39.204},{"t":13.028,"v":39.128},{"t":13.057,"v":39.118},{"t":13.102,"v":39.113},{"t":13.152,"v":39.105},{"t":13.209,"v":39.106},{"t":13.235,"v":39.077},{"t":13.261,"v":39.148},{"t":13.295,"v":39.170},{"t":13.335,"v":39.183},{"t":13.365,"v":39.193},{"t":13.445,"v":39.178},
      {"t":13.510,"v":39.203},{"t":13.536,"v":39.128},{"t":13.565,"v":39.118},{"t":13.610,"v":39.116},{"t":13.660,"v":39.108},{"t":13.706,"v":39.108},{"t":13.732,"v":39.075},{"t":13.758,"v":39.143},{"t":13.792,"v":39.168},{"t":13.832,"v":39.176},{"t":13.862,"v":39.186},{"t":13.942,"v":39.178},
      {"t":14.003,"v":39.209},{"t":14.029,"v":39.128},{"t":14.058,"v":39.118},{"t":14.103,"v":39.116},{"t":14.153,"v":39.108},{"t":14.215,"v":39.108},{"t":14.241,"v":39.076},{"t":14.267,"v":39.153},{"t":14.301,"v":39.173},{"t":14.341,"v":39.183},{"t":14.371,"v":39.193},{"t":14.451,"v":39.188},
      {"t":14.505,"v":39.215},{"t":14.531,"v":39.138},{"t":14.560,"v":39.128},{"t":14.605,"v":39.121},{"t":14.655,"v":39.113},{"t":14.707,"v":39.111},{"t":14.733,"v":39.084},{"t":14.759,"v":39.151},{"t":14.793,"v":39.173},{"t":14.833,"v":39.183},{"t":14.863,"v":39.193},{"t":14.943,"v":39.188},
      {"t":15.003,"v":39.210},{"t":15.029,"v":39.141},{"t":15.058,"v":39.131},{"t":15.103,"v":39.123},{"t":15.153,"v":39.115},{"t":15.210,"v":39.111},{"t":15.236,"v":39.079},{"t":15.262,"v":39.156},{"t":15.300,"v":39.171},{"t":15.316,"v":39.173},
      {"t":15.990,"v":39.187},{"t":16.005,"v":39.214},{"t":16.020,"v":39.200},{"t":16.498,"v":39.188},{"t":16.510,"v":39.210},
      {"t":16.525,"v":39.136},{"t":16.555,"v":39.128},{"t":16.590,"v":39.123},{"t":16.650,"v":39.115},{"t":16.725,"v":39.113},{"t":16.752,"v":39.085},{"t":16.778,"v":39.151},{"t":16.812,"v":39.176},{"t":16.852,"v":39.183},{"t":16.882,"v":39.193},{"t":16.962,"v":39.191},
      {"t":17.006,"v":39.210},{"t":17.032,"v":39.136},{"t":17.061,"v":39.126},{"t":17.106,"v":39.123},{"t":17.156,"v":39.115},{"t":17.218,"v":39.113},{"t":17.244,"v":39.084},{"t":17.270,"v":39.153},{"t":17.304,"v":39.176},{"t":17.344,"v":39.190},{"t":17.374,"v":39.200},{"t":17.454,"v":39.194},
      {"t":17.509,"v":39.213},{"t":17.535,"v":39.143},{"t":17.564,"v":39.133},{"t":17.609,"v":39.126},{"t":17.659,"v":39.118},{"t":17.716,"v":39.113},{"t":17.742,"v":39.077},{"t":17.768,"v":39.148},{"t":17.802,"v":39.173},{"t":17.842,"v":39.186},{"t":17.872,"v":39.196},{"t":17.952,"v":39.196},
      {"t":18.007,"v":39.211},{"t":18.033,"v":39.141},{"t":18.062,"v":39.131},{"t":18.107,"v":39.123},{"t":18.157,"v":39.115},{"t":18.224,"v":39.116},{"t":18.250,"v":39.081},{"t":18.276,"v":39.153},{"t":18.310,"v":39.173},{"t":18.350,"v":39.186},{"t":18.380,"v":39.196},{"t":18.460,"v":39.191},
      {"t":18.510,"v":39.211},{"t":18.536,"v":39.141},{"t":18.565,"v":39.131},{"t":18.610,"v":39.123},{"t":18.660,"v":39.115},{"t":18.712,"v":39.111},{"t":18.738,"v":39.077},{"t":18.764,"v":39.148},{"t":18.798,"v":39.173},{"t":18.838,"v":39.181},{"t":18.868,"v":39.191},{"t":18.948,"v":39.188},
      {"t":19.003,"v":39.210},{"t":19.029,"v":39.133},{"t":19.058,"v":39.123},{"t":19.103,"v":39.121},{"t":19.153,"v":39.113},{"t":19.215,"v":39.113},{"t":19.241,"v":39.084},{"t":19.267,"v":39.148},{"t":19.301,"v":39.168},{"t":19.341,"v":39.183},{"t":19.371,"v":39.193},{"t":19.451,"v":39.186},
      {"t":19.500,"v":39.209},{"t":19.526,"v":39.133},{"t":19.555,"v":39.123},{"t":19.600,"v":39.118},{"t":19.650,"v":39.110},{"t":19.713,"v":39.113},{"t":19.739,"v":39.082},{"t":19.765,"v":39.148},{"t":19.799,"v":39.166},{"t":19.839,"v":39.181},{"t":19.869,"v":39.191},{"t":19.949,"v":39.186},
      {"t":20.004,"v":39.206},{"t":20.030,"v":39.138},{"t":20.059,"v":39.128},{"t":20.104,"v":39.118},{"t":20.154,"v":39.110},{"t":20.211,"v":39.113},{"t":20.237,"v":39.082},{"t":20.263,"v":39.148},{"t":20.297,"v":39.168},{"t":20.337,"v":39.183},{"t":20.367,"v":39.193},{"t":20.447,"v":39.188},
      {"t":20.507,"v":39.205},{"t":20.533,"v":39.136},{"t":20.562,"v":39.126},{"t":20.607,"v":39.121},{"t":20.657,"v":39.113},{"t":20.703,"v":39.116},{"t":20.729,"v":39.082},{"t":20.755,"v":39.153},{"t":20.789,"v":39.173},{"t":20.829,"v":39.183},{"t":20.859,"v":39.193},{"t":20.939,"v":39.186},
      {"t":20.999,"v":39.206},{"t":21.025,"v":39.141},{"t":21.054,"v":39.131},{"t":21.099,"v":39.126},{"t":21.149,"v":39.118},{"t":21.212,"v":39.113},{"t":21.238,"v":39.079},{"t":21.264,"v":39.153},{"t":21.298,"v":39.176},{"t":21.338,"v":39.188},{"t":21.368,"v":39.198},{"t":21.448,"v":39.213},
      {"t":21.503,"v":39.209},{"t":21.529,"v":39.143},{"t":21.558,"v":39.133},{"t":21.603,"v":39.123},{"t":21.653,"v":39.115},{"t":21.715,"v":39.116},{"t":21.741,"v":39.084},{"t":21.767,"v":39.153},{"t":21.801,"v":39.173},{"t":21.841,"v":39.188},{"t":21.871,"v":39.198},{"t":21.951,"v":39.198},
      {"t":22.006,"v":39.219},{"t":22.032,"v":39.138},{"t":22.061,"v":39.128},{"t":22.106,"v":39.121},{"t":22.156,"v":39.113},{"t":22.218,"v":39.116},{"t":22.244,"v":39.084},{"t":22.270,"v":39.156},{"t":22.304,"v":39.171},{"t":22.344,"v":39.181},{"t":22.374,"v":39.191},{"t":22.454,"v":39.186},
      {"t":22.504,"v":39.215},{"t":22.530,"v":39.136},{"t":22.559,"v":39.126},{"t":22.604,"v":39.123},{"t":22.654,"v":39.115},{"t":22.711,"v":39.113},{"t":22.737,"v":39.084},{"t":22.763,"v":39.153},{"t":22.797,"v":39.176},{"t":22.837,"v":39.186},{"t":22.867,"v":39.196},{"t":22.947,"v":39.191},
      {"t":23.007,"v":39.206},{"t":23.033,"v":39.138},{"t":23.062,"v":39.128},{"t":23.107,"v":39.123},{"t":23.157,"v":39.115},{"t":23.214,"v":39.113},{"t":23.240,"v":39.086},{"t":23.266,"v":39.156},{"t":23.300,"v":39.173},{"t":23.340,"v":39.186},{"t":23.370,"v":39.196},{"t":23.450,"v":39.186},
      {"t":23.505,"v":39.208},{"t":23.531,"v":39.136},{"t":23.560,"v":39.126},{"t":23.605,"v":39.121},{"t":23.655,"v":39.113},{"t":23.712,"v":39.113},{"t":23.738,"v":39.079},{"t":23.764,"v":39.158},{"t":23.798,"v":39.173},{"t":23.838,"v":39.181},{"t":23.868,"v":39.191},{"t":23.959,"v":39.200},
      {"t":0.08,"v":39.142},{"t":0.125,"v":39.122},{"t":0.19,"v":39.126},{"t":0.293,"v":39.178},{"t":0.418,"v":39.205},
      {"t":0.577,"v":39.140},{"t":0.627,"v":39.127},{"t":0.687,"v":39.134},{"t":0.786,"v":39.176},{"t":0.911,"v":39.205},
      {"t":1.080,"v":39.145},{"t":1.130,"v":39.132},{"t":1.190,"v":39.131},{"t":1.288,"v":39.173},{"t":1.413,"v":39.206},
      {"t":1.583,"v":39.143},{"t":1.633,"v":39.130},{"t":1.693,"v":39.131},{"t":1.791,"v":39.176},{"t":1.916,"v":39.207},
      {"t":2.075,"v":39.138},{"t":2.125,"v":39.125},{"t":2.185,"v":39.126},{"t":2.273,"v":39.173},{"t":2.398,"v":39.202},
      {"t":2.578,"v":39.140},{"t":2.628,"v":39.127},{"t":2.688,"v":39.126},{"t":2.787,"v":39.176},{"t":2.912,"v":39.201},
      {"t":3.081,"v":39.145},{"t":3.131,"v":39.132},{"t":3.191,"v":39.134},{"t":3.274,"v":39.176},{"t":3.399,"v":39.195},
      {"t":3.579,"v":39.140},{"t":3.629,"v":39.127},{"t":3.689,"v":39.124},{"t":3.777,"v":39.168},{"t":3.902,"v":39.195},
      {"t":4.077,"v":39.138},{"t":4.127,"v":39.125},{"t":4.187,"v":39.124},{"t":4.285,"v":39.173},{"t":4.410,"v":39.197},
      {"t":4.574,"v":39.140},{"t":4.624,"v":39.127},{"t":4.684,"v":39.131},{"t":4.788,"v":39.176},{"t":4.913,"v":39.200},
      {"t":5.077,"v":39.138},{"t":5.127,"v":39.125},{"t":5.187,"v":39.126},{"t":5.285,"v":39.173},{"t":5.410,"v":39.200},
      {"t":5.580,"v":39.140},{"t":5.630,"v":39.127},{"t":5.690,"v":39.126},{"t":5.788,"v":39.176},{"t":5.913,"v":39.197},
      {"t":6.072,"v":39.138},{"t":6.122,"v":39.125},{"t":6.182,"v":39.121},{"t":6.280,"v":39.173},{"t":6.405,"v":39.202},
      {"t":6.575,"v":39.135},{"t":6.625,"v":39.122},{"t":6.685,"v":39.121},{"t":6.778,"v":39.176},{"t":6.903,"v":39.192},
      {"t":7.073,"v":39.135},{"t":7.123,"v":39.122},{"t":7.183,"v":39.124},{"t":7.271,"v":39.173},{"t":7.396,"v":39.195},
      {"t":7.576,"v":39.135},{"t":7.626,"v":39.122},{"t":7.686,"v":39.121},{"t":7.773,"v":39.168},{"t":7.898,"v":39.192},
      {"t":8.079,"v":39.130},{"t":8.129,"v":39.117},{"t":8.189,"v":39.124},{"t":8.288,"v":39.181},{"t":8.413,"v":39.195},
      {"t":8.588,"v":39.133},{"t":8.638,"v":39.120},{"t":8.698,"v":39.124},{"t":8.791,"v":39.163},{"t":8.916,"v":39.185},
      {"t":9.085,"v":39.133},{"t":9.135,"v":39.120},{"t":9.195,"v":39.124},{"t":9.288,"v":39.171},{"t":9.413,"v":39.192},
      {"t":9.583,"v":39.128},{"t":9.633,"v":39.115},{"t":9.693,"v":39.121},{"t":9.786,"v":39.158},{"t":9.911,"v":39.180},
      {"t":10.081,"v":39.123},{"t":10.131,"v":39.110},{"t":10.191,"v":39.116},{"t":10.278,"v":39.158},{"t":10.403,"v":39.175},
      {"t":10.589,"v":39.115},{"t":10.639,"v":39.102},{"t":10.699,"v":39.109},{"t":10.781,"v":39.153},{"t":10.906,"v":39.160},
      {"t":11.085,"v":39.110},{"t":11.135,"v":39.097},{"t":11.195,"v":39.104},{"t":11.284,"v":39.146},{"t":11.409,"v":39.160},
      {"t":11.579,"v":39.108},{"t":11.629,"v":39.095},{"t":11.689,"v":39.104},{"t":11.787,"v":39.141},{"t":11.912,"v":39.160},
      {"t":12.082,"v":39.108},{"t":12.132,"v":39.095},{"t":12.192,"v":39.104},{"t":12.279,"v":39.138},{"t":12.404,"v":39.163},
      {"t":12.585,"v":39.113},{"t":12.635,"v":39.100},{"t":12.695,"v":39.111},{"t":12.777,"v":39.151},{"t":12.902,"v":39.170},
      {"t":13.077,"v":39.120},{"t":13.127,"v":39.107},{"t":13.187,"v":39.114},{"t":13.280,"v":39.160},{"t":13.405,"v":39.170},
      {"t":13.585,"v":39.123},{"t":13.635,"v":39.110},{"t":13.695,"v":39.116},{"t":13.777,"v":39.158},{"t":13.902,"v":39.170},
      {"t":14.078,"v":39.123},{"t":14.128,"v":39.110},{"t":14.188,"v":39.116},{"t":14.286,"v":39.163},{"t":14.411,"v":39.180},
      {"t":14.580,"v":39.128},{"t":14.630,"v":39.115},{"t":14.690,"v":39.119},{"t":14.778,"v":39.163},{"t":14.903,"v":39.180},
      {"t":15.078,"v":39.130},{"t":15.128,"v":39.117},{"t":15.188,"v":39.119},
      {"t":16.575,"v":39.130},{"t":16.620,"v":39.117},{"t":16.695,"v":39.121},{"t":16.797,"v":39.166},{"t":16.922,"v":39.183},
      {"t":17.081,"v":39.130},{"t":17.131,"v":39.117},{"t":17.191,"v":39.121},{"t":17.289,"v":39.166},{"t":17.414,"v":39.186},
      {"t":17.584,"v":39.133},{"t":17.634,"v":39.120},{"t":17.694,"v":39.121},{"t":17.787,"v":39.163},{"t":17.912,"v":39.188},
      {"t":18.082,"v":39.130},{"t":18.132,"v":39.117},{"t":18.192,"v":39.124},{"t":18.295,"v":39.163},{"t":18.420,"v":39.183},
      {"t":18.585,"v":39.130},{"t":18.635,"v":39.117},{"t":18.695,"v":39.119},{"t":18.783,"v":39.163},{"t":18.908,"v":39.180},
      {"t":19.078,"v":39.128},{"t":19.128,"v":39.115},{"t":19.188,"v":39.121},{"t":19.286,"v":39.158},{"t":19.411,"v":39.178},
      {"t":19.575,"v":39.125},{"t":19.625,"v":39.112},{"t":19.685,"v":39.121},{"t":19.784,"v":39.156},{"t":19.909,"v":39.178},
      {"t":20.079,"v":39.125},{"t":20.129,"v":39.112},{"t":20.189,"v":39.121},{"t":20.282,"v":39.158},{"t":20.407,"v":39.180},
      {"t":20.582,"v":39.128},{"t":20.632,"v":39.115},{"t":20.692,"v":39.124},{"t":20.774,"v":39.163},{"t":20.899,"v":39.178},
      {"t":21.074,"v":39.133},{"t":21.124,"v":39.120},{"t":21.184,"v":39.121},{"t":21.283,"v":39.166},{"t":21.408,"v":39.205},
      {"t":21.578,"v":39.130},{"t":21.628,"v":39.117},{"t":21.688,"v":39.124},{"t":21.786,"v":39.163},{"t":21.911,"v":39.190},
      {"t":22.081,"v":39.128},{"t":22.131,"v":39.115},{"t":22.191,"v":39.124},{"t":22.289,"v":39.161},{"t":22.414,"v":39.178},
      {"t":22.579,"v":39.130},{"t":22.629,"v":39.117},{"t":22.689,"v":39.121},{"t":22.782,"v":39.166},{"t":22.907,"v":39.183},
      {"t":23.082,"v":39.130},{"t":23.132,"v":39.117},{"t":23.192,"v":39.121},{"t":23.285,"v":39.163},{"t":23.410,"v":39.178},
      {"t":23.580,"v":39.128},{"t":23.630,"v":39.115},{"t":23.690,"v":39.121},{"t":23.783,"v":39.163},{"t":23.913,"v":39.183}
    ],
    "rtemp": [
      {"t":0.03,"v":36.38},{"t":0.10,"v":36.62},{"t":0.18,"v":36.85},{"t":0.238,"v":36.94},{"t":0.258,"v":36.75},{"t":0.298,"v":36.58},{"t":0.348,"v":36.42},{"t":0.408,"v":36.29},{"t":0.492,"v":36.18},
      {"t":0.500,"v":36.38},{"t":0.602,"v":36.64},{"t":0.672,"v":36.79},{"t":0.731,"v":36.91},{"t":0.751,"v":36.74},{"t":0.791,"v":36.59},{"t":0.841,"v":36.45},{"t":0.901,"v":36.33},{"t":0.995,"v":36.24},
      {"t":1.003,"v":36.44},{"t":1.105,"v":36.68},{"t":1.175,"v":36.83},{"t":1.233,"v":36.94},{"t":1.253,"v":36.78},{"t":1.293,"v":36.63},{"t":1.343,"v":36.49},{"t":1.403,"v":36.38},{"t":1.498,"v":36.29},
      {"t":1.506,"v":36.48},{"t":1.608,"v":36.72},{"t":1.678,"v":36.86},{"t":1.736,"v":36.97},{"t":1.756,"v":36.80},{"t":1.796,"v":36.63},{"t":1.846,"v":36.49},{"t":1.906,"v":36.37},{"t":1.990,"v":36.27},
      {"t":1.998,"v":36.46},{"t":2.100,"v":36.70},{"t":2.170,"v":36.84},{"t":2.218,"v":36.95},{"t":2.238,"v":36.80},{"t":2.278,"v":36.66},{"t":2.328,"v":36.53},{"t":2.388,"v":36.43},{"t":2.493,"v":36.34},
      {"t":2.501,"v":36.52},{"t":2.603,"v":36.75},{"t":2.673,"v":36.89},{"t":2.732,"v":36.99},{"t":2.752,"v":36.82},{"t":2.792,"v":36.67},{"t":2.842,"v":36.53},{"t":2.902,"v":36.41},{"t":2.996,"v":36.32},
      {"t":3.004,"v":36.50},{"t":3.106,"v":36.73},{"t":3.176,"v":36.87},{"t":3.219,"v":36.97},{"t":3.239,"v":36.81},{"t":3.279,"v":36.66},{"t":3.329,"v":36.53},{"t":3.389,"v":36.42},{"t":3.494,"v":36.33},
      {"t":3.502,"v":36.51},{"t":3.604,"v":36.75},{"t":3.674,"v":36.88},{"t":3.722,"v":36.99},{"t":3.742,"v":36.80},{"t":3.782,"v":36.63},{"t":3.832,"v":36.48},{"t":3.892,"v":36.35},{"t":3.992,"v":36.25},
      {"t":4.000,"v":36.46},{"t":4.102,"v":36.72},{"t":4.172,"v":36.87},{"t":4.230,"v":36.99},{"t":4.250,"v":36.80},{"t":4.290,"v":36.63},{"t":4.340,"v":36.47},{"t":4.400,"v":36.35},{"t":4.489,"v":36.24},
      {"t":4.497,"v":36.44},{"t":4.599,"v":36.70},{"t":4.669,"v":36.85},{"t":4.733,"v":36.97},{"t":4.753,"v":36.79},{"t":4.793,"v":36.62},{"t":4.843,"v":36.46},{"t":4.903,"v":36.33},{"t":4.992,"v":36.23},
      {"t":5.000,"v":36.43},{"t":5.102,"v":36.69},{"t":5.172,"v":36.84},{"t":5.230,"v":36.96},{"t":5.250,"v":36.77},{"t":5.290,"v":36.60},{"t":5.340,"v":36.44},{"t":5.400,"v":36.31},{"t":5.495,"v":36.20},
      {"t":5.503,"v":36.40},{"t":5.605,"v":36.66},{"t":5.675,"v":36.81},{"t":5.733,"v":36.93},{"t":5.753,"v":36.76},{"t":5.793,"v":36.59},{"t":5.843,"v":36.45},{"t":5.903,"v":36.33},{"t":5.987,"v":36.23},
      {"t":5.995,"v":36.44},{"t":6.097,"v":36.70},{"t":6.167,"v":36.85},{"t":6.225,"v":36.97},{"t":6.245,"v":36.79},{"t":6.285,"v":36.62},{"t":6.335,"v":36.47},{"t":6.395,"v":36.34},{"t":6.490,"v":36.24},
      {"t":6.498,"v":36.44},{"t":6.600,"v":36.69},{"t":6.670,"v":36.84},{"t":6.723,"v":36.95},{"t":6.743,"v":36.78},{"t":6.783,"v":36.62},{"t":6.833,"v":36.47},{"t":6.893,"v":36.36},{"t":6.988,"v":36.26},
      {"t":6.996,"v":36.45},{"t":7.098,"v":36.68},{"t":7.168,"v":36.82},{"t":7.216,"v":36.93},{"t":7.236,"v":36.76},{"t":7.276,"v":36.60},{"t":7.326,"v":36.45},{"t":7.386,"v":36.34},{"t":7.491,"v":36.24},
      {"t":7.499,"v":36.44},{"t":7.601,"v":36.69},{"t":7.671,"v":36.84},{"t":7.718,"v":36.96},{"t":7.738,"v":36.78},{"t":7.778,"v":36.61},{"t":7.828,"v":36.46},{"t":7.888,"v":36.33},{"t":7.994,"v":36.23},
      {"t":8.002,"v":36.41},{"t":8.104,"v":36.65},{"t":8.174,"v":36.78},{"t":8.233,"v":36.89},{"t":8.253,"v":36.74},{"t":8.293,"v":36.60},{"t":8.343,"v":36.48},{"t":8.403,"v":36.37},{"t":8.503,"v":36.29},
      {"t":8.511,"v":36.47},{"t":8.613,"v":36.70},{"t":8.683,"v":36.84},{"t":8.736,"v":36.94},{"t":8.756,"v":36.78},{"t":8.796,"v":36.63},{"t":8.846,"v":36.49},{"t":8.906,"v":36.38},{"t":9.000,"v":36.29},
      {"t":9.008,"v":36.47},{"t":9.110,"v":36.69},{"t":9.180,"v":36.82},{"t":9.233,"v":36.92},{"t":9.253,"v":36.76},{"t":9.293,"v":36.62},{"t":9.343,"v":36.49},{"t":9.403,"v":36.38},{"t":9.498,"v":36.29},
      {"t":9.506,"v":36.46},{"t":9.608,"v":36.67},{"t":9.678,"v":36.80},{"t":9.731,"v":36.90},{"t":9.751,"v":36.76},{"t":9.791,"v":36.63},{"t":9.841,"v":36.51},{"t":9.901,"v":36.41},{"t":9.996,"v":36.33},
      {"t":10.004,"v":36.50},{"t":10.106,"v":36.71},{"t":10.176,"v":36.84},{"t":10.223,"v":36.94},{"t":10.243,"v":36.79},{"t":10.283,"v":36.65},{"t":10.333,"v":36.53},{"t":10.393,"v":36.42},{"t":10.504,"v":36.34},
      {"t":10.512,"v":36.51},{"t":10.614,"v":36.72},{"t":10.684,"v":36.84},{"t":10.726,"v":36.94},{"t":10.746,"v":36.80},{"t":10.786,"v":36.67},{"t":10.836,"v":36.55},{"t":10.896,"v":36.45},{"t":11.000,"v":36.37},
      {"t":11.008,"v":36.53},{"t":11.110,"v":36.74},{"t":11.180,"v":36.86},{"t":11.229,"v":36.95},{"t":11.249,"v":36.80},{"t":11.289,"v":36.66},{"t":11.339,"v":36.54},{"t":11.399,"v":36.43},{"t":11.494,"v":36.35},
      {"t":11.502,"v":36.51},{"t":11.604,"v":36.71},{"t":11.674,"v":36.83},{"t":11.732,"v":36.92},{"t":11.752,"v":36.79},{"t":11.792,"v":36.67},{"t":11.842,"v":36.56},{"t":11.902,"v":36.47},{"t":11.997,"v":36.40},
      {"t":12.005,"v":36.54},{"t":12.107,"v":36.72},{"t":12.177,"v":36.83},{"t":12.224,"v":36.91},{"t":12.244,"v":36.78},{"t":12.284,"v":36.67},{"t":12.334,"v":36.56},{"t":12.394,"v":36.47},{"t":12.500,"v":36.40},
      {"t":12.508,"v":36.55},{"t":12.610,"v":36.73},{"t":12.680,"v":36.85},{"t":12.722,"v":36.93},{"t":12.742,"v":36.78},{"t":12.782,"v":36.65},{"t":12.832,"v":36.52},{"t":12.892,"v":36.42},{"t":12.992,"v":36.34},
      {"t":13.000,"v":36.51},{"t":13.102,"v":36.73},{"t":13.172,"v":36.86},{"t":13.225,"v":36.96},{"t":13.245,"v":36.81},{"t":13.285,"v":36.68},{"t":13.335,"v":36.55},{"t":13.395,"v":36.45},{"t":13.500,"v":36.37},
      {"t":13.508,"v":36.53},{"t":13.610,"v":36.72},{"t":13.680,"v":36.84},{"t":13.722,"v":36.93},{"t":13.742,"v":36.79},{"t":13.782,"v":36.66},{"t":13.832,"v":36.54},{"t":13.892,"v":36.44},{"t":13.993,"v":36.36},
      {"t":14.001,"v":36.52},{"t":14.103,"v":36.73},{"t":14.173,"v":36.85},{"t":14.231,"v":36.94},{"t":14.251,"v":36.78},{"t":14.291,"v":36.64},{"t":14.341,"v":36.51},{"t":14.401,"v":36.40},{"t":14.495,"v":36.31},
      {"t":14.503,"v":36.48},{"t":14.605,"v":36.69},{"t":14.675,"v":36.81},{"t":14.723,"v":36.91},{"t":14.743,"v":36.76},{"t":14.783,"v":36.63},{"t":14.833,"v":36.50},{"t":14.893,"v":36.40},{"t":14.993,"v":36.32},
      {"t":15.001,"v":36.49},{"t":15.103,"v":36.70},{"t":15.173,"v":36.83},{"t":15.226,"v":36.93},{"t":15.246,"v":36.78},{"t":15.270,"v":36.68},{"t":15.327,"v":36.57},
      {"t":16.000,"v":36.19},{"t":16.016,"v":36.44},{"t":16.498,"v":36.22},{"t":16.510,"v":36.48},{"t":16.560,"v":36.60},{"t":16.620,"v":36.76},{"t":16.680,"v":36.87},{"t":16.742,"v":36.92},
      {"t":16.762,"v":36.76},{"t":16.802,"v":36.61},{"t":16.852,"v":36.48},{"t":16.912,"v":36.37},{"t":16.996,"v":36.28},
      {"t":17.004,"v":36.48},{"t":17.106,"v":36.73},{"t":17.176,"v":36.88},{"t":17.234,"v":36.99},{"t":17.254,"v":36.81},{"t":17.294,"v":36.64},{"t":17.344,"v":36.49},{"t":17.404,"v":36.36},{"t":17.499,"v":36.26},
      {"t":17.507,"v":36.46},{"t":17.609,"v":36.71},{"t":17.679,"v":36.86},{"t":17.732,"v":36.97},{"t":17.752,"v":36.80},{"t":17.792,"v":36.64},{"t":17.842,"v":36.50},{"t":17.902,"v":36.39},{"t":17.997,"v":36.29},
      {"t":18.005,"v":36.49},{"t":18.107,"v":36.73},{"t":18.177,"v":36.88},{"t":18.240,"v":36.99},{"t":18.260,"v":36.82},{"t":18.300,"v":36.66},{"t":18.350,"v":36.51},{"t":18.410,"v":36.40},{"t":18.500,"v":36.30},
      {"t":18.508,"v":36.48},{"t":18.610,"v":36.71},{"t":18.680,"v":36.85},{"t":18.728,"v":36.95},{"t":18.748,"v":36.80},{"t":18.788,"v":36.66},{"t":18.838,"v":36.53},{"t":18.898,"v":36.43},{"t":18.993,"v":36.34},
      {"t":19.001,"v":36.52},{"t":19.103,"v":36.74},{"t":19.173,"v":36.87},{"t":19.231,"v":36.97},{"t":19.251,"v":36.82},{"t":19.291,"v":36.68},{"t":19.341,"v":36.55},{"t":19.401,"v":36.45},{"t":19.490,"v":36.36},
      {"t":19.498,"v":36.53},{"t":19.600,"v":36.74},{"t":19.670,"v":36.87},{"t":19.729,"v":36.97},{"t":19.749,"v":36.82},{"t":19.789,"v":36.68},{"t":19.839,"v":36.55},{"t":19.899,"v":36.45},{"t":19.994,"v":36.36},
      {"t":20.002,"v":36.53},{"t":20.104,"v":36.73},{"t":20.174,"v":36.86},{"t":20.227,"v":36.95},{"t":20.247,"v":36.80},{"t":20.287,"v":36.66},{"t":20.337,"v":36.53},{"t":20.397,"v":36.43},{"t":20.497,"v":36.34},
      {"t":20.505,"v":36.51},{"t":20.607,"v":36.72},{"t":20.677,"v":36.84},{"t":20.719,"v":36.94},{"t":20.739,"v":36.79},{"t":20.779,"v":36.65},{"t":20.829,"v":36.52},{"t":20.889,"v":36.42},{"t":20.989,"v":36.33},
      {"t":20.997,"v":36.51},{"t":21.099,"v":36.74},{"t":21.169,"v":36.88},{"t":21.228,"v":36.98},{"t":21.248,"v":36.81},{"t":21.288,"v":36.65},{"t":21.338,"v":36.51},{"t":21.398,"v":36.40},{"t":21.493,"v":36.30},
      {"t":21.501,"v":36.49},{"t":21.603,"v":36.73},{"t":21.673,"v":36.88},{"t":21.731,"v":36.99},{"t":21.751,"v":36.82},{"t":21.791,"v":36.66},{"t":21.841,"v":36.51},{"t":21.901,"v":36.40},{"t":21.996,"v":36.30},
      {"t":22.004,"v":36.48},{"t":22.106,"v":36.72},{"t":22.176,"v":36.85},{"t":22.234,"v":36.96},{"t":22.254,"v":36.80},{"t":22.294,"v":36.65},{"t":22.344,"v":36.52},{"t":22.404,"v":36.41},{"t":22.494,"v":36.32},
      {"t":22.502,"v":36.50},{"t":22.604,"v":36.72},{"t":22.674,"v":36.86},{"t":22.727,"v":36.96},{"t":22.747,"v":36.80},{"t":22.787,"v":36.65},{"t":22.837,"v":36.52},{"t":22.897,"v":36.41},{"t":22.997,"v":36.32},
      {"t":23.005,"v":36.50},{"t":23.107,"v":36.74},{"t":23.177,"v":36.87},{"t":23.230,"v":36.98},{"t":23.250,"v":36.82},{"t":23.290,"v":36.67},{"t":23.340,"v":36.53},{"t":23.400,"v":36.42},{"t":23.495,"v":36.33},
      {"t":23.503,"v":36.51},{"t":23.605,"v":36.73},{"t":23.675,"v":36.87},{"t":23.728,"v":36.97},{"t":23.748,"v":36.81},{"t":23.788,"v":36.66},{"t":23.838,"v":36.53},{"t":23.898,"v":36.44},{"t":23.959,"v":36.37}
    ],
    "pctemp": [
      {"t":0.03,"v":14.10},{"t":0.14,"v":14.12},{"t":0.25,"v":14.16},{"t":0.31,"v":14.14},{"t":0.47,"v":14.24},{"t":0.59,"v":14.31},{"t":0.73,"v":14.38},{"t":0.81,"v":14.37},{"t":0.95,"v":14.42},{"t":1.03,"v":14.41},
      {"t":1.12,"v":14.45},{"t":1.23,"v":14.48},{"t":1.31,"v":14.48},{"t":1.42,"v":14.51},{"t":1.51,"v":14.49},{"t":1.65,"v":14.51},{"t":1.73,"v":14.53},{"t":1.81,"v":14.52},{"t":1.95,"v":14.54},{"t":2.01,"v":14.53},
      {"t":2.09,"v":14.60},{"t":2.20,"v":14.64},{"t":2.31,"v":14.62},{"t":2.40,"v":14.61},{"t":2.48,"v":14.64},{"t":2.59,"v":14.66},{"t":2.73,"v":14.70},{"t":2.82,"v":14.69},{"t":2.98,"v":14.67},{"t":3.10,"v":14.66},
      {"t":3.21,"v":14.63},{"t":3.29,"v":14.59},{"t":3.43,"v":14.60},{"t":3.51,"v":14.59},{"t":3.60,"v":14.62},{"t":3.74,"v":14.66},{"t":3.85,"v":14.78},{"t":3.96,"v":14.81},{"t":4.10,"v":14.83},{"t":4.23,"v":14.86},
      {"t":4.38,"v":14.76},{"t":4.46,"v":14.75},{"t":4.53,"v":14.69},{"t":4.66,"v":14.70},{"t":4.82,"v":14.69},{"t":4.91,"v":14.73},{"t":5.02,"v":14.74},{"t":5.13,"v":14.83},{"t":5.24,"v":14.90},{"t":5.33,"v":14.89},
      {"t":5.47,"v":14.96},{"t":5.55,"v":14.99},{"t":5.72,"v":15.07},{"t":5.83,"v":15.03},{"t":6.00,"v":15.01},{"t":6.11,"v":15.04},{"t":6.25,"v":15.12},{"t":6.44,"v":15.13},{"t":6.50,"v":15.10},{"t":6.61,"v":15.13},
      {"t":6.72,"v":15.18},{"t":6.82,"v":15.19},{"t":6.96,"v":15.32},{"t":7.04,"v":15.31},{"t":7.21,"v":15.35},{"t":7.30,"v":15.27},{"t":7.41,"v":15.20},{"t":7.55,"v":15.25},{"t":7.74,"v":15.29},{"t":7.88,"v":15.26},
      {"t":7.99,"v":15.32},{"t":8.08,"v":15.41},{"t":8.24,"v":15.49},{"t":8.30,"v":15.48},{"t":8.47,"v":15.57},{"t":8.55,"v":15.63},{"t":8.66,"v":15.64},{"t":8.77,"v":15.68},{"t":8.89,"v":15.76},{"t":9.00,"v":15.87},
      {"t":9.05,"v":15.96},{"t":9.19,"v":15.97},{"t":9.28,"v":15.95},{"t":9.39,"v":16.06},{"t":9.47,"v":16.13},{"t":9.55,"v":16.18},{"t":9.67,"v":16.16},{"t":9.78,"v":16.15},{"t":9.89,"v":16.24},{"t":10.00,"v":16.35},
      {"t":10.11,"v":16.45},{"t":10.25,"v":16.51},{"t":10.36,"v":16.65},{"t":10.47,"v":16.84},{"t":10.56,"v":16.92},{"t":10.67,"v":16.96},{"t":10.78,"v":17.05},{"t":10.87,"v":17.17},{"t":10.98,"v":17.32},{"t":11.06,"v":17.39},
      {"t":11.20,"v":17.52},{"t":11.34,"v":17.52},{"t":11.45,"v":17.56},{"t":11.56,"v":17.61},{"t":11.70,"v":17.55},{"t":11.80,"v":17.47},{"t":11.90,"v":17.55},{"t":12.01,"v":17.57},{"t":12.09,"v":17.53},{"t":12.23,"v":17.43},
      {"t":12.34,"v":17.28},{"t":12.45,"v":17.25},{"t":12.54,"v":17.20},{"t":12.71,"v":16.99},{"t":12.82,"v":16.88},{"t":12.96,"v":16.89},{"t":13.12,"v":16.96},{"t":13.24,"v":16.95},{"t":13.35,"v":16.92},{"t":13.49,"v":17.01},
      {"t":13.60,"v":17.03},{"t":13.71,"v":17.06},{"t":13.82,"v":16.96},{"t":13.96,"v":16.85},{"t":14.04,"v":16.77},{"t":14.21,"v":16.63},{"t":14.32,"v":16.48},{"t":14.46,"v":16.37},{"t":14.55,"v":16.27},{"t":14.74,"v":16.16},
      {"t":14.88,"v":15.99},{"t":15.02,"v":15.90},{"t":15.21,"v":15.81},{"t":15.41,"v":15.67},{"t":15.57,"v":15.55},{"t":16.00,"v":15.23},{"t":16.02,"v":15.27},{"t":16.51,"v":15.26},{"t":16.62,"v":15.51},{"t":16.73,"v":15.76},
      {"t":16.87,"v":15.94},{"t":16.93,"v":15.97},{"t":17.04,"v":15.94},{"t":17.12,"v":15.98},{"t":17.24,"v":16.12},{"t":17.32,"v":16.06},{"t":17.40,"v":16.00},{"t":17.50,"v":16.02},{"t":17.57,"v":16.13},{"t":17.65,"v":16.20},
      {"t":17.76,"v":16.26},{"t":17.87,"v":16.26},{"t":17.97,"v":16.27},{"t":18.02,"v":16.24},{"t":18.12,"v":16.34},{"t":18.24,"v":16.42},{"t":18.35,"v":16.33},{"t":18.43,"v":16.32},{"t":18.53,"v":16.29},{"t":18.63,"v":16.33},
      {"t":18.79,"v":16.37},{"t":18.91,"v":16.35},{"t":19.02,"v":16.35},{"t":19.24,"v":16.40},{"t":19.35,"v":16.37},{"t":19.45,"v":16.38},{"t":19.52,"v":16.34},{"t":19.63,"v":16.40},{"t":19.73,"v":16.43},{"t":19.85,"v":16.31},
      {"t":20.01,"v":16.17},{"t":20.10,"v":16.20},{"t":20.21,"v":16.23},{"t":20.35,"v":16.09},{"t":20.51,"v":15.99},{"t":20.58,"v":16.05},{"t":20.75,"v":16.10},{"t":20.86,"v":16.05},{"t":21.00,"v":16.01},{"t":21.08,"v":16.09},
      {"t":21.25,"v":16.17},{"t":21.42,"v":15.98},{"t":21.52,"v":15.93},{"t":21.58,"v":15.98},{"t":21.71,"v":16.04},{"t":21.86,"v":15.88},{"t":22.00,"v":15.76},{"t":22.08,"v":15.83},{"t":22.24,"v":15.91},{"t":22.36,"v":15.81},
      {"t":22.50,"v":15.73},{"t":22.59,"v":15.77},{"t":22.75,"v":15.86},{"t":22.87,"v":15.80},{"t":23.01,"v":15.75},{"t":23.12,"v":15.79},{"t":23.24,"v":15.82},{"t":23.39,"v":15.72},{"t":23.52,"v":15.66},{"t":23.59,"v":15.69},
      {"t":23.73,"v":15.70},{"t":23.84,"v":15.61},{"t":23.95,"v":15.55}
    ]
  },
  "vconcat": [
    {
      "title": {"text": "W-band Housekeeping 2024-01-10", "frame": "group", "anchor": "middle", "fontSize": 54, "fontWeight": "normal", "font": "DejaVu Sans", "color": "#000000", "offset": -12},
      "width": 2744,
      "height": 467,
      "layer": [
        {
          "data": {"name": "power"},
          "mark": {"type": "line", "color": "#000000", "strokeWidth": 3},
          "encoding": {
            "x": {"field": "t", "type": "quantitative", "scale": {"domain": [0, 24], "nice": false, "zero": false},
                  "axis": {"orient": "bottom", "values": [0,1,2,3,4,5,6,7,8,9,10,11,12,13,14,15,16,17,18,19,20,21,22,23,24], "grid": true, "labels": false, "title": null}},
            "y": {"field": "v", "type": "quantitative", "scale": {"domain": [1.5096, 1.5406], "nice": false, "zero": false},
                  "axis": {"values": [1.51, 1.52, 1.53, 1.54], "format": ".2f", "grid": true, "title": "Trans. Power [W]"}}
          }
        },
        {
          "data": {"name": "power"},
          "mark": {"type": "line", "opacity": 0},
          "encoding": {
            "x": {"field": "t", "type": "quantitative",
                  "axis": {"orient": "bottom", "values": [0.25,0.5,0.75,1.25,1.5,1.75,2.25,2.5,2.75,3.25,3.5,3.75,4.25,4.5,4.75,5.25,5.5,5.75,6.25,6.5,6.75,7.25,7.5,7.75,8.25,8.5,8.75,9.25,9.5,9.75,10.25,10.5,10.75,11.25,11.5,11.75,12.25,12.5,12.75,13.25,13.5,13.75,14.25,14.5,14.75,15.25,15.5,15.75,16.25,16.5,16.75,17.25,17.5,17.75,18.25,18.5,18.75,19.25,19.5,19.75,20.25,20.5,20.75,21.25,21.5,21.75,22.25,22.5,22.75,23.25,23.5,23.75], "grid": false, "labels": false, "title": null, "tickSize": 10}}
          }
        }
      ],
      "resolve": {"axis": {"x": "independent"}}
    },
    {
      "width": 2744,
      "height": 467,
      "layer": [
        {
          "data": {"name": "ttemp"},
          "mark": {"type": "line", "color": "#d62728", "strokeWidth": 3.5},
          "encoding": {
            "x": {"field": "t", "type": "quantitative", "scale": {"domain": [0, 24], "nice": false, "zero": false},
                  "axis": {"orient": "bottom", "values": [0,1,2,3,4,5,6,7,8,9,10,11,12,13,14,15,16,17,18,19,20,21,22,23,24], "grid": true, "labels": false, "title": null}},
            "y": {"field": "v", "type": "quantitative", "scale": {"domain": [39.0574, 39.2398], "nice": false, "zero": false},
                  "axis": {"values": [39.10, 39.15, 39.20], "format": ".2f", "grid": true, "title": "Trans. Temp [°C]"}}
          }
        },
        {
          "data": {"name": "ttemp"},
          "mark": {"type": "line", "opacity": 0},
          "encoding": {
            "x": {"field": "t", "type": "quantitative",
                  "axis": {"orient": "bottom", "values": [0.25,0.5,0.75,1.25,1.5,1.75,2.25,2.5,2.75,3.25,3.5,3.75,4.25,4.5,4.75,5.25,5.5,5.75,6.25,6.5,6.75,7.25,7.5,7.75,8.25,8.5,8.75,9.25,9.5,9.75,10.25,10.5,10.75,11.25,11.5,11.75,12.25,12.5,12.75,13.25,13.5,13.75,14.25,14.5,14.75,15.25,15.5,15.75,16.25,16.5,16.75,17.25,17.5,17.75,18.25,18.5,18.75,19.25,19.5,19.75,20.25,20.5,20.75,21.25,21.5,21.75,22.25,22.5,22.75,23.25,23.5,23.75], "grid": false, "labels": false, "title": null, "tickSize": 10}}
          }
        }
      ],
      "resolve": {"axis": {"x": "independent"}}
    },
    {
      "width": 2744,
      "height": 467,
      "layer": [
        {
          "data": {"name": "rtemp"},
          "mark": {"type": "line", "color": "#ff7f0e", "strokeWidth": 3.5},
          "encoding": {
            "x": {"field": "t", "type": "quantitative", "scale": {"domain": [0, 24], "nice": false, "zero": false},
                  "axis": {"orient": "bottom", "values": [0,1,2,3,4,5,6,7,8,9,10,11,12,13,14,15,16,17,18,19,20,21,22,23,24], "grid": true, "labels": false, "title": null}},
            "y": {"field": "v", "type": "quantitative", "scale": {"domain": [36.139, 37.037], "nice": false, "zero": false},
                  "axis": {"values": [36.2, 36.4, 36.6, 36.8, 37.0], "format": ".1f", "grid": true, "title": "Rec. Temp [°C]"}}
          }
        },
        {
          "data": {"name": "rtemp"},
          "mark": {"type": "line", "opacity": 0},
          "encoding": {
            "x": {"field": "t", "type": "quantitative",
                  "axis": {"orient": "bottom", "values": [0.25,0.5,0.75,1.25,1.5,1.75,2.25,2.5,2.75,3.25,3.5,3.75,4.25,4.5,4.75,5.25,5.5,5.75,6.25,6.5,6.75,7.25,7.5,7.75,8.25,8.5,8.75,9.25,9.5,9.75,10.25,10.5,10.75,11.25,11.5,11.75,12.25,12.5,12.75,13.25,13.5,13.75,14.25,14.5,14.75,15.25,15.5,15.75,16.25,16.5,16.75,17.25,17.5,17.75,18.25,18.5,18.75,19.25,19.5,19.75,20.25,20.5,20.75,21.25,21.5,21.75,22.25,22.5,22.75,23.25,23.5,23.75], "grid": false, "labels": false, "title": null, "tickSize": 10}}
          }
        }
      ],
      "resolve": {"axis": {"x": "independent"}}
    },
    {
      "width": 2744,
      "height": 467,
      "layer": [
        {
          "data": {"name": "pctemp"},
          "mark": {"type": "line", "color": "#1f77b4", "strokeWidth": 3.5},
          "encoding": {
            "x": {"field": "t", "type": "quantitative", "scale": {"domain": [0, 24], "nice": false, "zero": false},
                  "axis": {"orient": "bottom", "values": [0,1,2,3,4,5,6,7,8,9,10,11,12,13,14,15,16,17,18,19,20,21,22,23,24], "grid": true, "labels": true,
                           "labelExpr": "datum.value == 24 ? '00' : (datum.value < 10 ? '0' + datum.value : '' + datum.value)",
                           "labelPadding": 2, "title": "Time [UTC]", "titlePadding": 4}},
            "y": {"field": "v", "type": "quantitative", "scale": {"domain": [13.917, 17.79], "nice": false, "zero": false},
                  "axis": {"values": [14, 15, 16, 17], "format": "d", "grid": true, "title": "PC Temp [°C]"}}
          }
        },
        {
          "data": {"name": "pctemp"},
          "mark": {"type": "line", "opacity": 0},
          "encoding": {
            "x": {"field": "t", "type": "quantitative",
                  "axis": {"orient": "bottom", "values": [0.25,0.5,0.75,1.25,1.5,1.75,2.25,2.5,2.75,3.25,3.5,3.75,4.25,4.5,4.75,5.25,5.5,5.75,6.25,6.5,6.75,7.25,7.5,7.75,8.25,8.5,8.75,9.25,9.5,9.75,10.25,10.5,10.75,11.25,11.5,11.75,12.25,12.5,12.75,13.25,13.5,13.75,14.25,14.5,14.75,15.25,15.5,15.75,16.25,16.5,16.75,17.25,17.5,17.75,18.25,18.5,18.75,19.25,19.5,19.75,20.25,20.5,20.75,21.25,21.5,21.75,22.25,22.5,22.75,23.25,23.5,23.75], "grid": false, "labels": false, "title": null, "tickSize": 10}}
          }
        }
      ],
      "resolve": {"axis": {"x": "independent"}}
    }
  ]
}
